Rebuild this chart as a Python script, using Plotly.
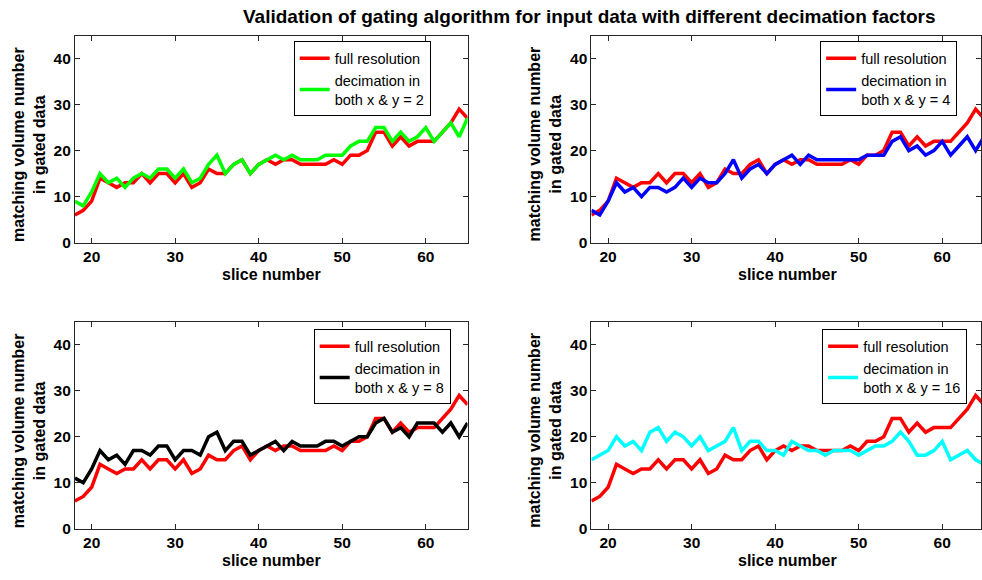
import plotly.graph_objects as go

# ---------------- data ----------------
slices = list(range(18, 66))
full_resolution = [6, 7, 9, 14, 13, 12, 13, 13, 15, 13, 15, 15, 13, 15, 12, 13, 16, 15, 15, 17,
                   18, 15, 17, 18, 17, 18, 18, 17, 17, 17, 17, 18, 17, 19, 19, 20, 24, 24, 21, 23,
                   21, 22, 22, 22, 24, 26, 29, 27]
decimation_2 = [9, 8, 11, 15, 13, 14, 12, 14, 15, 14, 16, 16, 14, 16, 13, 14, 17, 19, 15, 17,
                18, 15, 17, 18, 19, 18, 19, 18, 18, 18, 19, 19, 19, 21, 22, 22, 25, 25, 22, 24,
                22, 23, 25, 22, 24, 26, 23, 27]
decimation_4 = [7, 6, 9, 13, 11, 12, 10, 12, 12, 11, 12, 14, 12, 14, 13, 13, 15, 18, 14, 16,
                17, 15, 17, 18, 19, 17, 19, 18, 18, 18, 18, 18, 18, 19, 19, 19, 22, 23, 20, 21,
                19, 20, 22, 19, 21, 23, 20, 23]
decimation_8 = [11, 10, 13, 17, 15, 16, 14, 17, 17, 16, 18, 18, 15, 17, 17, 16, 20, 21, 17, 19,
                19, 16, 17, 18, 19, 17, 19, 18, 18, 18, 19, 19, 18, 19, 20, 20, 23, 24, 21, 22,
                20, 23, 23, 23, 21, 23, 20, 23]
decimation_16 = [15, 16, 17, 20, 18, 19, 17, 21, 22, 19, 21, 20, 18, 20, 17, 18, 19, 22, 17, 19,
                 19, 17, 17, 16, 19, 18, 17, 17, 16, 17, 17, 17, 16, 17, 18, 18, 19, 21, 19, 16,
                 16, 17, 19, 15, 16, 17, 15, 14]

decimated = [decimation_2, decimation_4, decimation_8, decimation_16]
factors = [2, 4, 8, 16]
dec_colors = ["#00ff00", "#0000ff", "#000000", "#00ffff"]

title_text = "Validation of gating algorithm for input data with different decimation factors"
x_title = "slice number"
y_title = "matching volume number<br>in gated data"
x_ticks = [20, 30, 40, 50, 60]
y_ticks = [0, 10, 20, 30, 40]

# ---------------- layout helpers ----------------
W, H = 982, 580
FONT = "Liberation Sans, Arial, sans-serif"

# panel boxes in pixels: left, right, top, bottom
panels = [(75, 468, 36, 246), (592, 982, 36, 246),
          (75, 468, 326.5, 536), (592, 982, 326.5, 536)]
px_per_unit = (468 - 75) / 47.0
legend_pos = [(294, 42), (821, 42), (314, 334), (823, 334)]

fig = go.Figure()
layout = dict(
    width=W, height=H,
    margin=dict(l=0, r=0, t=0, b=0),
    paper_bgcolor="white", plot_bgcolor="white",
    font=dict(family=FONT, color="black"),
    showlegend=True,
    annotations=[],
)

for i in range(4):
    l, r, t, b = panels[i]
    sfx = "" if i == 0 else str(i + 1)
    xa, ya = "x" + sfx, "y" + sfx
    leg = "legend" + sfx
    fig.add_trace(go.Scatter(x=slices, y=full_resolution, mode="lines",
                             name="full resolution",
                             line=dict(color="#ff0000", width=3.5),
                             xaxis=xa, yaxis=ya, legend=leg))
    fig.add_trace(go.Scatter(x=slices, y=decimated[i], mode="lines",
                             name="decimation in<br>both x & y = %d" % factors[i],
                             line=dict(color=dec_colors[i], width=3.5),
                             xaxis=xa, yaxis=ya, legend=leg))
    xmax = 18 + (r - l) / px_per_unit
    axis_common = dict(showgrid=False, zeroline=False, showline=True, linecolor="#262626",
                       linewidth=1, mirror="ticks", ticks="inside", ticklen=5,
                       tickcolor="#262626",
                       tickfont=dict(family=FONT, size=15.5, color="black", weight="bold"))
    layout["xaxis" + sfx] = dict(axis_common, domain=[l / W, min(r / W, 1.0)],
                                 range=[18, xmax], tickvals=x_ticks, anchor=ya)
    layout["yaxis" + sfx] = dict(axis_common, domain=[1 - b / H, 1 - t / H],
                                 range=[0, 45], tickvals=y_ticks, anchor=xa)
    lx, ly = legend_pos[i]
    layout[leg] = dict(x=lx / W, y=1 - ly / H, xref="paper", yref="paper",
                       xanchor="left", yanchor="top",
                       bgcolor="white", bordercolor="black", borderwidth=1,
                       font=dict(family=FONT, size=14.5, color="black"),
                       tracegroupgap=0, itemwidth=30)
    # axis titles
    layout["annotations"].append(dict(
        text=x_title, x=(l + 468) / 2 / W if i % 2 == 0 else (l + 985) / 2 / W,
        y=1 - (b + 32) / H, xref="paper", yref="paper",
        xanchor="center", yanchor="middle", showarrow=False,
        font=dict(family=FONT, size=16, color="black", weight="bold")))
    layout["annotations"].append(dict(
        text=y_title, x=(l - 46) / W, y=1 - ((t + b) / 2 + 5) / H, xref="paper", yref="paper",
        xanchor="center", yanchor="middle", showarrow=False, textangle=-90,
        font=dict(family=FONT, size=16, color="black", weight="bold")))

layout["annotations"].append(dict(
    text=title_text, x=590 / W, y=1 - 17 / H, xref="paper", yref="paper",
    xanchor="center", yanchor="middle", showarrow=False,
    font=dict(family=FONT, size=19, color="black", weight="bold")))

fig.update_layout(**layout)
fig.write_html("out.html")
